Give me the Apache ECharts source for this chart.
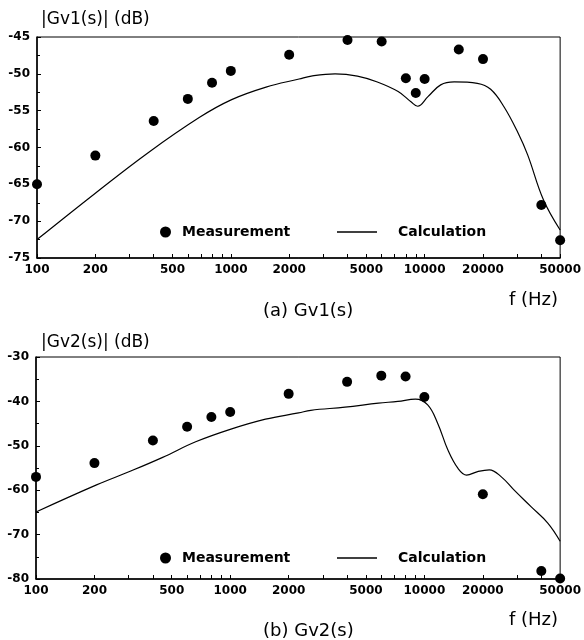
<!DOCTYPE html>
<html>
<head>
<meta charset="utf-8">
<script src="https://cdn.jsdelivr.net/npm/echarts@6/dist/echarts.min.js"></script>
<style>
  html, body { margin: 0; padding: 0; background: #fff; }
  #chart { width: 584px; height: 640px; }
</style>
</head>
<body>
<div id="chart"></div>
<script>
// frequency tick labels (Hz)
const freqLabels = [100, 200, 500, 1000, 2000, 5000, 10000, 20000, 50000];
const freqTicks = [100, 200, 300, 400, 500, 600, 700, 800, 900,
  1000, 2000, 3000, 4000, 5000, 6000, 7000, 8000, 9000,
  10000, 20000, 30000, 40000, 50000];

// (a) Gv1(s)
const meas1F = [100, 200, 400, 600, 800, 1000, 2000, 4000, 6000, 8000, 9000, 10000, 15000, 20000, 40000, 50000];
const meas1V = [-65.0, -61.1, -56.4, -53.4, -51.2, -49.6, -47.4, -45.4, -45.6, -50.6, -52.6, -50.7, -46.7, -48.0, -67.8, -72.6];
const calc1F = [100, 200, 370, 690, 1010, 1520, 2250, 2600, 3450, 4500, 5700, 7300, 8500, 9200, 10400, 12100, 14200, 18700, 21900, 25700, 30300, 34000, 41000, 50000];
const calc1V = [-72.5, -66.2, -60.8, -55.9, -53.5, -51.8, -50.7, -50.3, -50.0, -50.3, -51.1, -52.4, -53.8, -54.4, -53.1, -51.5, -51.1, -51.3, -52.1, -54.5, -58.0, -61.0, -67.1, -71.2];

// (b) Gv2(s)
const meas2F = [100, 200, 400, 600, 800, 1000, 2000, 4000, 6000, 8000, 10000, 20000, 40000, 50000];
const meas2V = [-57.0, -53.9, -48.8, -45.7, -43.5, -42.4, -38.3, -35.6, -34.2, -34.4, -39.0, -60.9, -78.2, -79.9];
const calc2F = [100, 205, 303, 449, 664, 1000, 1520, 2250, 2600, 3900, 5800, 7300, 9000, 10400, 11700, 13200, 14900, 16500, 18800, 21600, 24900, 29000, 35400, 43200, 50000];
const calc2V = [-64.9, -58.8, -55.8, -52.6, -49.1, -46.3, -44.0, -42.6, -42.0, -41.3, -40.4, -40.0, -39.5, -40.8, -44.9, -50.9, -55.1, -56.6, -55.8, -55.4, -57.0, -60.0, -63.7, -67.4, -71.5];

const pairs = (xs, ys) => xs.map((x, i) => [x, ys[i]]);

const tickFont = { color: '#000', fontFamily: 'DejaVu Sans', fontWeight: 'bold', fontSize: 12 };

function xAxisFor(gridIndex) {
  return {
    type: 'log', logBase: 10, gridIndex, min: 100, max: 50000,
    axisLine: { lineStyle: { color: '#000', width: 1.5 } },
    axisTick: { inside: true, length: 4, customValues: freqTicks, lineStyle: { color: '#000' } },
    axisLabel: Object.assign({ margin: 6, customValues: freqLabels, formatter: v => String(Math.round(v)) }, tickFont),
    splitLine: { show: false },
    minorTick: { show: false }
  };
}

function yAxisFor(gridIndex, min, max, interval) {
  return {
    type: 'value', gridIndex, min, max, interval,
    axisLine: { show: true, lineStyle: { color: '#000', width: 1.5 } },
    axisTick: { inside: true, length: 4, lineStyle: { color: '#000' } },
    minorTick: { show: true, splitNumber: 2, length: 3, lineStyle: { color: '#000' } },
    axisLabel: Object.assign({ margin: 7 }, tickFont),
    splitLine: { show: false }
  };
}

const titleText = { color: '#000', fontFamily: 'DejaVu Sans', fontWeight: 'normal', fontSize: 17 };
const capText = { color: '#000', fontFamily: 'DejaVu Sans', fontWeight: 'normal', fontSize: 18 };
const legendText = { color: '#000', fontFamily: 'DejaVu Sans', fontWeight: 'bold', fontSize: 14 };

function legendPair(top) {
  return [
    { data: [{ name: 'Measurement', icon: 'circle' }], left: 160, top, padding: 0, itemWidth: 11, itemHeight: 11,
      textStyle: Object.assign({ padding: [0, 0, 0, 6] }, legendText), selectedMode: false },
    { data: [{ name: 'Calculation', icon: 'rect' }], left: 337, top, padding: 0, itemWidth: 40, itemHeight: 1.3,
      itemStyle: { color: '#000' },
      textStyle: Object.assign({ padding: [0, 0, 0, 16] }, legendText), selectedMode: false }
  ];
}

const chart = echarts.init(document.getElementById('chart'));
chart.setOption({
  animation: false,
  backgroundColor: '#fff',
  title: [
    { text: '|Gv1(s)| (dB)', left: 36, top: 6, textStyle: titleText },
    { text: 'f (Hz)', left: 504, top: 286, textStyle: capText },
    { text: '(a) Gv1(s)', left: 258, top: 297, textStyle: capText },
    { text: '|Gv2(s)| (dB)', left: 36, top: 329, textStyle: titleText },
    { text: 'f (Hz)', left: 504, top: 606, textStyle: capText },
    { text: '(b) Gv2(s)', left: 258, top: 617, textStyle: capText }
  ],
  legend: legendPair(225).concat(legendPair(551)),
  grid: [
    { left: 37, right: 20, top: 37, height: 221, show: true, borderColor: '#000', borderWidth: 1 },
    { left: 36, right: 21, top: 357, height: 222, show: true, borderColor: '#000', borderWidth: 1 }
  ],
  xAxis: [xAxisFor(0), xAxisFor(1)],
  yAxis: [yAxisFor(0, -75, -45, 5), yAxisFor(1, -80, -30, 10)],
  series: [
    { name: 'Measurement', type: 'scatter', xAxisIndex: 0, yAxisIndex: 0, symbolSize: 10, clip: false,
      itemStyle: { color: '#000', opacity: 1 }, data: pairs(meas1F, meas1V) },
    { name: 'Calculation', type: 'line', xAxisIndex: 0, yAxisIndex: 0, smooth: 0.4, symbol: 'none',
      lineStyle: { color: '#000', width: 1.2 }, itemStyle: { color: '#000' }, data: pairs(calc1F, calc1V) },
    { name: 'Measurement', type: 'scatter', xAxisIndex: 1, yAxisIndex: 1, symbolSize: 10, clip: false,
      itemStyle: { color: '#000', opacity: 1 }, data: pairs(meas2F, meas2V) },
    { name: 'Calculation', type: 'line', xAxisIndex: 1, yAxisIndex: 1, smooth: 0.4, symbol: 'none',
      lineStyle: { color: '#000', width: 1.2 }, itemStyle: { color: '#000' }, data: pairs(calc2F, calc2V) }
  ]
});
</script>
</body>
</html>
